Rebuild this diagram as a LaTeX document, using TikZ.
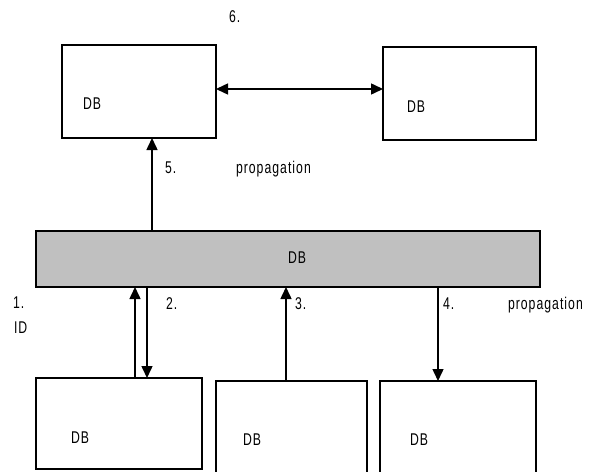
\documentclass[tikz,border=0pt]{standalone}
\usepackage{fontspec}
\setmainfont[FakeStretch=0.72,LetterSpace=6]{Liberation Sans}
\usetikzlibrary{arrows.meta}
\definecolor{boxgray}{HTML}{C0C0C0}
\begin{document}
\begin{tikzpicture}[x=1pt,y=-1pt,
  font=\fontsize{17}{20}\selectfont,
  dbbox/.style={draw, line width=1.6pt, inner sep=0pt, outer sep=0pt, fill=white},
  lbl/.style={anchor=base west, inner sep=0pt, outer sep=0pt},
  conn/.style={line width=1.5pt, -{Triangle[length=12pt,width=11pt]}},
  dconn/.style={line width=1.5pt, {Triangle[length=12pt,width=11pt]}-{Triangle[length=12pt,width=11pt]}}]
\useasboundingbox (0,0) rectangle (594,471);
% boxes
\node[dbbox, minimum width=154pt, minimum height=93pt] (TL) at (139,91.5) {};
\node[dbbox, minimum width=153pt, minimum height=93pt] (TR) at (459.5,93.5) {};
\node[dbbox, fill=boxgray, minimum width=504pt, minimum height=56pt] (BIG) at (288,259) {};
\node[dbbox, minimum width=166pt, minimum height=91pt] (B1) at (119,423.5) {};
\node[dbbox, minimum width=151pt, minimum height=94pt] (B2) at (291.5,428) {};
\node[dbbox, minimum width=156pt, minimum height=94pt] (B3) at (458,428) {};
% helper coordinates
\coordinate (dy) at (0,89);
\coordinate (x5) at (152,0);
\coordinate (x1) at (135,0);
\coordinate (x2) at (147,0);
\coordinate (x3) at (286,0);
\coordinate (x4) at (438,0);
% connectors
\draw[dconn] (TL.east |- dy) -- (TR.west |- dy);
\draw[conn] (BIG.north -| x5) -- (TL.south -| x5);
\draw[conn] (B1.north -| x1) -- (BIG.south -| x1);
\draw[conn] (BIG.south -| x2) -- (B1.north -| x2);
\draw[conn] (B2.north -| x3) -- (BIG.south -| x3);
\draw[conn] (BIG.south -| x4) -- (B3.north -| x4);
% texts
\node[lbl] (t6) at (229,22) {6.};
\node[lbl] (dbTL) at (83,109) {DB};
\node[lbl] (dbTR) at (407,112) {DB};
\node[lbl] (t5) at (165,173) {5.};
\node[lbl] (prop1) at (236,173) {propagation};
\node[lbl] (dbBIG) at (288,263) {DB};
\node[lbl] (t1) at (13,308) {1.};
\node[lbl] (tID) at (14,333) {ID};
\node[lbl] (t2) at (166,309) {2.};
\node[lbl] (t3) at (295,309) {3.};
\node[lbl] (t4) at (443,309) {4.};
\node[lbl] (prop2) at (508,309) {propagation};
\node[lbl] (dbB1) at (71,443) {DB};
\node[lbl] (dbB2) at (243,445) {DB};
\node[lbl] (dbB3) at (410,445) {DB};
\end{tikzpicture}
\end{document}
